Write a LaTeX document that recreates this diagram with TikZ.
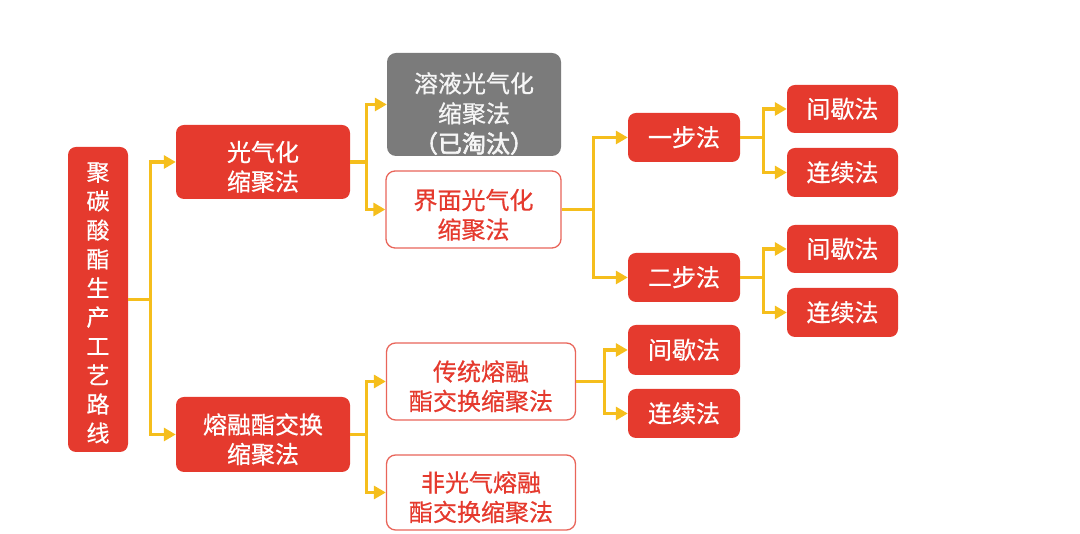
\documentclass[tikz,border=0pt]{standalone}
\usepackage{fontspec}
\setmainfont{Noto Sans CJK SC}[FakeBold=0.6]
\newfontfamily\boldcjk{Noto Sans CJK SC}[FakeBold=2.4]
\usetikzlibrary{arrows.meta}
\definecolor{pcred}{HTML}{E53A2E}
\definecolor{pcborder}{HTML}{E9655A}
\definecolor{pcgray}{HTML}{7B7B7B}
\definecolor{pcyel}{HTML}{F5BE1C}
\newcommand\dropbox[2]{\raisebox{-#1}[\height][\depth]{\begin{tabular}{@{}c@{}}#2\end{tabular}}}
\tikzset{
  redbox/.style={fill=pcred,draw=none,rounded corners=8pt,text=white,align=center,inner sep=0pt,font=\fontsize{24}{29.5}\selectfont},
  whitebox/.style={fill=white,draw=pcborder,line width=1.3pt,rounded corners=9pt,text=pcred,align=center,inner sep=0pt,font=\fontsize{24}{29.5}\selectfont},
  graybox/.style={fill=pcgray,draw=none,rounded corners=9pt,text=white!93!gray,align=center,inner sep=0pt,font=\fontsize{24}{30}\selectfont},
  conn/.style={draw=pcyel,line width=3.2pt,-{Triangle[length=12pt,width=13pt]}},
}
\begin{document}
\begin{tikzpicture}[x=1pt,y=1pt]
\useasboundingbox (0,0) rectangle (1080,534);
% nodes (y = 534 - pixel y)
\node[redbox,minimum width=60pt,minimum height=305pt,font=\fontsize{23}{29}\selectfont] (root) at (98,234.5) {\dropbox{6pt}{聚\\碳\\酸\\酯\\生\\产\\工\\艺\\路\\线}};
\node[redbox,minimum width=174pt,minimum height=74pt] (gq) at (263,372) {\dropbox{8pt}{光气化\\缩聚法}};
\node[redbox,minimum width=174pt,minimum height=75pt] (rr) at (263,99.5) {\dropbox{8pt}{熔融酯交换\\缩聚法}};
\node[graybox,minimum width=174pt,minimum height=103pt] (ry) at (474,429.5) {\dropbox{12pt}{溶液光气化\\缩聚法\\{\boldcjk （已淘汰）}}};
\node[whitebox,minimum width=175pt,minimum height=77pt] (jm) at (473.5,324.5) {\dropbox{8.5pt}{界面光气化\\缩聚法}};
\node[whitebox,minimum width=189pt,minimum height=77pt] (ct) at (481,152.5) {\dropbox{8pt}{传统熔融\\酯交换缩聚法}};
\node[whitebox,minimum width=189pt,minimum height=75pt] (fg) at (481,41.5) {\dropbox{8pt}{非光气熔融\\酯交换缩聚法}};
\node[redbox,minimum width=112pt,minimum height=49pt] (ybf) at (684,396.5) {\dropbox{3pt}{一步法}};
\node[redbox,minimum width=112pt,minimum height=49pt] (ebf) at (684,256.5) {\dropbox{3pt}{二步法}};
\node[redbox,minimum width=111pt,minimum height=48pt] (jx1) at (842.5,425) {\dropbox{3pt}{间歇法}};
\node[redbox,minimum width=111pt,minimum height=49pt] (lx1) at (842.5,361.5) {\dropbox{3pt}{连续法}};
\node[redbox,minimum width=111pt,minimum height=48pt] (jx2) at (842.5,285) {\dropbox{3pt}{间歇法}};
\node[redbox,minimum width=111pt,minimum height=49pt] (lx2) at (842.5,221.5) {\dropbox{3pt}{连续法}};
\node[redbox,minimum width=112pt,minimum height=50pt] (jx3) at (684,184) {\dropbox{3pt}{间歇法}};
\node[redbox,minimum width=112pt,minimum height=49pt] (lx3) at (684,120.5) {\dropbox{3pt}{连续法}};
% connectors
\draw[conn] (root.east) -- ++(22,0) |- (gq.west);
\draw[conn] (root.east) -- ++(22,0) |- (rr.west);
\draw[conn] (gq.east) -- ++(16,0) |- (ry.west);
\draw[conn] (gq.east) -- ++(16,0) |- (jm.west);
\draw[conn] (jm.east) -- ++(32,0) |- (ybf.west);
\draw[conn] (jm.east) -- ++(32,0) |- (ebf.west);
\draw[conn] (ybf.east) -- ++(23,0) |- (jx1.west);
\draw[conn] (ybf.east) -- ++(23,0) |- (lx1.west);
\draw[conn] (ebf.east) -- ++(23,0) |- (jx2.west);
\draw[conn] (ebf.east) -- ++(23,0) |- (lx2.west);
\draw[conn] (rr.east) -- ++(16,0) |- (ct.west);
\draw[conn] (rr.east) -- ++(16,0) |- (fg.west);
\draw[conn] (ct.east) -- ++(28,0) |- (jx3.west);
\draw[conn] (ct.east) -- ++(28,0) |- (lx3.west);
\end{tikzpicture}
\end{document}
